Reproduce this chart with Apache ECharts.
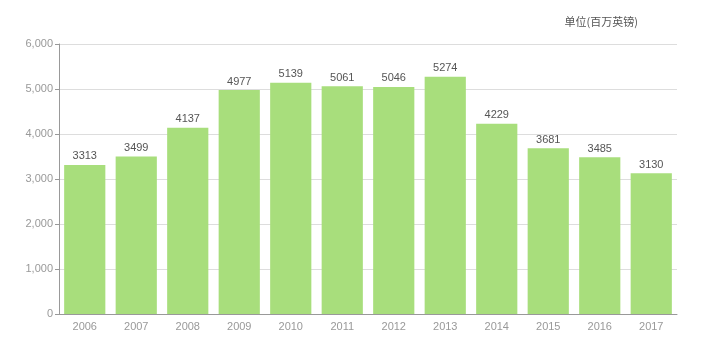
<!DOCTYPE html>
<html><head><meta charset="utf-8">
<script src="https://cdn.jsdelivr.net/npm/echarts@6/dist/echarts.min.js"></script>
<style>html,body{margin:0;padding:0;background:#fff}#c{width:714px;height:341px}</style>
</head><body><div id="c"></div>
<script>
var categories = ['2006','2007','2008','2009','2010','2011','2012','2013','2014','2015','2016','2017'];
var values = [3313,3499,4137,4977,5139,5061,5046,5274,4229,3681,3485,3130];
var unitText = '单位(百万英镑)';
var chart = echarts.init(document.getElementById('c'));
chart.setOption({
  animation:false,
  title:{text:unitText,right:71,top:11,textStyle:{fontSize:11,fontWeight:'normal',color:'#555',fontFamily:'Noto Sans CJK SC'}},
  grid:{left:59,right:37,top:44,bottom:27},
  xAxis:{type:'category',data:categories,
    axisLine:{lineStyle:{color:'#999'}},
    axisTick:{alignWithLabel:true,length:4,lineStyle:{color:'#999'}},
    axisLabel:{color:'#999',fontSize:11,margin:7}},
  yAxis:{type:'value',min:0,max:6000,interval:1000,
    axisLine:{show:true,lineStyle:{color:'#999'}},
    axisTick:{show:true,length:4,lineStyle:{color:'#999'}},
    axisLabel:{color:'#999',fontSize:11,margin:6,formatter:function(v){return v.toLocaleString('en-US');}},
    splitLine:{lineStyle:{color:'#ddd'}}},
  series:[{type:'bar',data:values,barCategoryGap:'20%',
    itemStyle:{color:'#a8de7c'},
    label:{show:true,position:'top',color:'#555',fontSize:11,distance:3}}]
});
</script></body></html>
